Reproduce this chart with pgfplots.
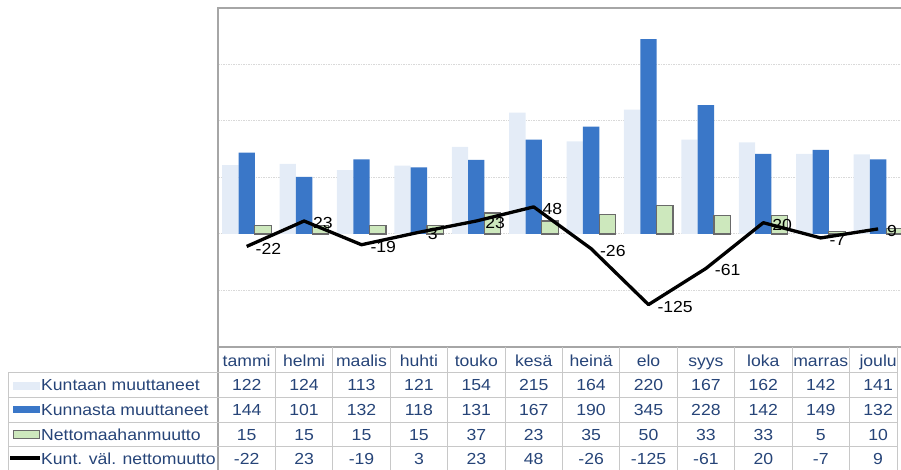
\documentclass[border=0pt]{standalone}
\usepackage{pgfplots}
\usepackage{pgfplotstable}
\pgfplotsset{compat=1.18}
\usepackage{fontspec}
\setmainfont{Liberation Sans}[FakeStretch=1.1]

\definecolor{cin}{HTML}{E4ECF7}
\definecolor{cout}{HTML}{3A77C8}
\definecolor{cnet}{HTML}{CDE8BD}
\definecolor{cnetb}{HTML}{6A6A6A}
\definecolor{ctxt}{HTML}{264478}
\definecolor{cgrid}{HTML}{D9D9D9}
\definecolor{cborder}{HTML}{A6A6A6}
\definecolor{ctab}{HTML}{C8C8C8}

\pgfplotstableread{
idx mon tulo lahto netto kunt
0 tammi 122 144 15 -22
1 helmi 124 101 15 23
2 maalis 113 132 15 -19
3 huhti 121 118 15 3
4 touko 154 131 37 23
5 kesä 215 167 23 48
6 heinä 164 190 35 -26
7 elo 220 345 50 -125
8 syys 167 228 33 -61
9 loka 162 142 33 20
10 marras 142 149 5 -7
11 joulu 141 132 10 9
}\data

\begin{document}
\fontsize{16pt}{19pt}\selectfont
\begin{tikzpicture}
\useasboundingbox (0pt,0pt) rectangle (901pt,470pt);
\begin{axis}[
  at={(218pt,123pt)}, anchor=south west,
  scale only axis, width=688.8pt, height=339pt,
  xmin=-0.5, xmax=11.5, ymin=-200, ymax=400,
  enlargelimits=false,
  axis line style={draw=none},
  xtick=\empty, ytick={-100,0,100,200,300}, yticklabels={{},{},{},{},{}},
  major tick length=0pt,
  ymajorgrids, grid style={cgrid, line width=1pt, dash pattern=on 1.5pt off 1pt},
  clip=false,
]
\addplot[ybar, bar width=0.285, bar shift=-0.285, fill=cin, draw=none] table[x=idx, y=tulo] \data;
\addplot[ybar, bar width=0.285, bar shift=0, fill=cout, draw=none] table[x=idx, y=lahto] \data;
\addplot[ybar, bar width=0.285, bar shift=0.285, fill=cnet, draw=cnetb, line width=1.2pt] table[x=idx, y=netto] \data;
\addplot[black, line width=3.3pt, line join=round, mark=none,
  nodes near coords, point meta=explicit symbolic,
  every node near coord/.style={anchor=west, xshift=9pt, yshift=-2pt, inner sep=0pt, text=black, line width=0pt}]
  table[x=idx, y=kunt, meta=kunt] \data;
\end{axis}
% borders
\draw[cborder, line width=1.5pt] (218pt,0pt) -- (218pt,462pt) -- (901pt,462pt);
\draw[cborder, line width=1.5pt] (218pt,123pt) -- (901pt,123pt);
% table grid
\foreach \k in {1,...,11} \draw[ctab, line width=1pt] (218pt+57.4pt*\k, 123pt) -- ++(0pt,-123pt);
\draw[ctab, line width=1pt] (897.7pt,123pt) -- (897.7pt,0pt);
\draw[ctab, line width=1pt] (8pt,97.5pt) -- (8pt,0pt);
\foreach \y in {97.5,72.5,47.5,23} \draw[ctab, line width=1pt] (8pt,\y pt) -- (898pt,\y pt);
% legend keys
\fill[cin] (13pt,80pt) rectangle (40pt,88.3pt);
\fill[cout] (13pt,57pt) rectangle (40pt,64.3pt);
\filldraw[fill=cnet, draw=cnetb, line width=1.2pt] (13.5pt,31.5pt) rectangle (39.5pt,39.5pt);
\draw[black, line width=3.3pt] (10pt,12pt) -- (40pt,12pt);
% legend texts
\node[ctxt, anchor=base west, inner sep=0pt] at (41pt,79.3pt) {Kuntaan muuttaneet};
\node[ctxt, anchor=base west, inner sep=0pt] at (41pt,54pt) {Kunnasta muuttaneet};
\node[ctxt, anchor=base west, inner sep=0pt] at (41pt,29.3pt) {Nettomaahanmuutto};
\node[ctxt, anchor=base west, inner sep=0pt] at (41pt,5.7pt) {Kunt. väl. nettomuutto};
% table values
\foreach \i in {0,...,11}{
  \pgfplotstablegetelem{\i}{mon}\of\data
  \node[ctxt, anchor=base, inner sep=0pt] at (246.7pt+57.4pt*\i, 103.3pt) {\pgfplotsretval};
  \pgfplotstablegetelem{\i}{tulo}\of\data
  \node[ctxt, anchor=base, inner sep=0pt] at (246.7pt+57.4pt*\i, 79.3pt) {\pgfplotsretval};
  \pgfplotstablegetelem{\i}{lahto}\of\data
  \node[ctxt, anchor=base, inner sep=0pt] at (246.7pt+57.4pt*\i, 54pt) {\pgfplotsretval};
  \pgfplotstablegetelem{\i}{netto}\of\data
  \node[ctxt, anchor=base, inner sep=0pt] at (246.7pt+57.4pt*\i, 29.3pt) {\pgfplotsretval};
  \pgfplotstablegetelem{\i}{kunt}\of\data
  \node[ctxt, anchor=base, inner sep=0pt] at (246.7pt+57.4pt*\i, 5.7pt) {\pgfplotsretval};
}
\end{tikzpicture}
\end{document}
